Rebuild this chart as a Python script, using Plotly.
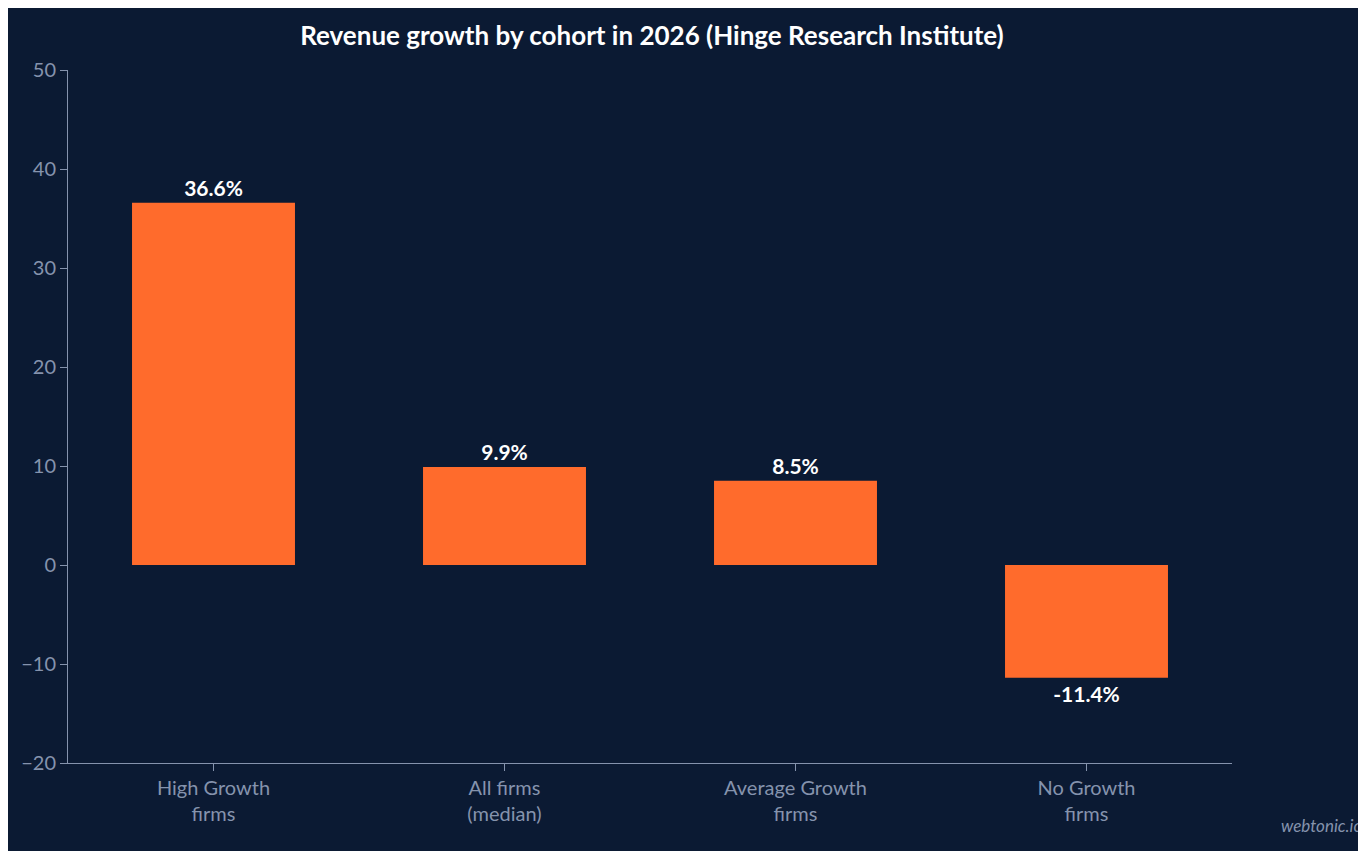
import plotly.graph_objects as go

categories = ["High Growth<br>firms", "All firms<br>(median)", "Average Growth<br>firms", "No Growth<br>firms"]
growth = [36.6, 9.9, 8.5, -11.4]
labels = ["36.6%", "9.9%", "8.5%", "-11.4%"]

BG = "#0b1a33"
AXIS = "#8593ad"

fig = go.Figure(
    go.Bar(
        x=categories,
        y=growth,
        text=labels,
        textposition="outside",
        textfont=dict(family="Lato", size=21, color="white", weight="bold"),
        marker=dict(color="#ff6b2c", line=dict(width=0)),
        width=0.56,
        cliponaxis=False,
    )
)

fig.update_layout(
    width=1350,
    height=843,
    paper_bgcolor=BG,
    plot_bgcolor=BG,
    margin=dict(l=60, r=126, t=62, b=88),
    font=dict(family="Lato", color=AXIS, size=20),
    title=dict(
        text="<b>Revenue growth by cohort in 2026 (Hinge Research Institute)</b>",
        x=0.477, xanchor="center", y=0.967, yanchor="middle",
        font=dict(family="Lato", size=26, color="white"),
    ),
    showlegend=False,
    annotations=[
        dict(text="<i>webtonic.io</i>", xref="paper", yref="paper", x=1.113, y=-0.09,
             xanchor="right", yanchor="middle", showarrow=False,
             font=dict(family="Lato", size=17, color="#8593ad"))
    ],
)
fig.update_yaxes(range=[-20, 50], dtick=10, showgrid=False, zeroline=False,
                 showline=True, linecolor=AXIS, ticks="outside", ticklen=7,
                 tickcolor=AXIS, tickfont=dict(color=AXIS))
fig.update_xaxes(showgrid=False, showline=True, linecolor=AXIS, ticks="outside",
                 ticklen=7, tickcolor=AXIS, tickfont=dict(color=AXIS))

fig.write_html("out.html")
